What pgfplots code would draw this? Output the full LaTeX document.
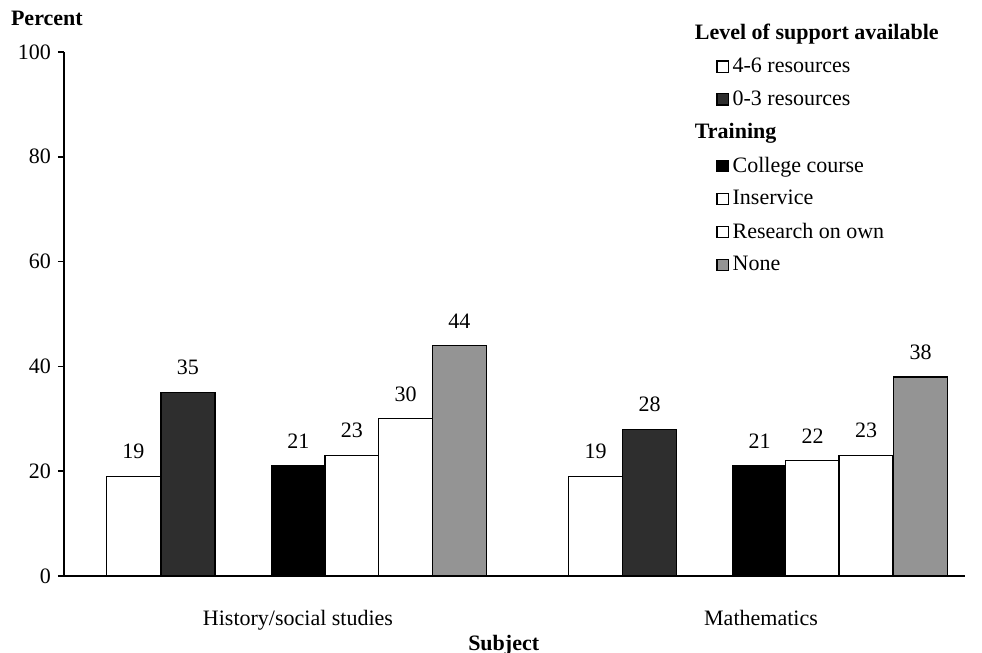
\documentclass[border=0pt]{standalone}
\usepackage{fontspec}
\setmainfont{Liberation Serif}
\usepackage{pgfplots}
\pgfplotsset{compat=1.18}
\begin{document}
\begin{tikzpicture}[font=\fontsize{11}{13}\selectfont]
\begin{axis}[
  x=0.5pt, y=2.62pt,
  xmin=64, xmax=965, ymin=0, ymax=100,
  axis x line=bottom, axis y line=left,
  axis line style={-, line width=1.2pt},
  ytick={0,20,40,60,80,100},
  tick align=outside,
  major tick length=3pt,
  ytick style={line width=0.8pt, black},
  xtick={298,761},
  xticklabels={History/social studies, Mathematics},
  xtick style={draw=none},
  xticklabel style={yshift=-10.5pt},
  /pgf/number format/assume math mode=true,
  xlabel={Subject},
  xlabel style={at={(rel axis cs:0.488,-0.132)}, anchor=center, font=\fontsize{11}{13}\selectfont\bfseries},
  ylabel={Percent},
  ylabel style={rotate=-90, at={(rel axis cs:-0.019,1.065)}, anchor=center, font=\fontsize{11}{13}\selectfont\bfseries},
  ybar, bar width=54, bar shift=0pt,
  clip=false,
  nodes near coords,
  nodes near coords style={yshift=5pt, /pgf/number format/assume math mode=true},
  legend image code/.code={\draw[#1, line width=0.6pt] (0pt,-2.8pt) rectangle (5.6pt,2.8pt); \path (7.5pt,0pt);},
  legend style={at={(0.7236,1.054)}, anchor=north west, draw=none, fill=none,
    inner sep=0pt, row sep=7.6pt, legend cell align=left,
    nodes={inner sep=0pt}},
]
\addlegendimage{empty legend}
\addlegendentry{\hspace*{-18.9pt}\textbf{Level of support available}}
\addplot[draw=black, line width=0.7pt, fill=white, bar shift=0pt] coordinates {(133.5,19) (595.5,19)};
\addlegendentry{4-6 resources}
\addplot[draw=black, line width=0.7pt, fill=black!82, bar shift=0pt] coordinates {(188,35) (649.5,28)};
\addlegendentry{0-3 resources}
\addlegendimage{empty legend}
\addlegendentry{\hspace*{-18.9pt}\textbf{Training}}
\addplot[draw=black, line width=0.7pt, fill=black, bar shift=0pt] coordinates {(298.5,21) (759.5,21)};
\addlegendentry{College course}
\addplot[draw=black, line width=0.7pt, fill=white, bar shift=0pt] coordinates {(352,23) (812.5,22)};
\addlegendentry{Inservice}
\addplot[draw=black, line width=0.7pt, fill=white, bar shift=0pt] coordinates {(405.5,30) (866,23)};
\addlegendentry{Research on own}
\addplot[draw=black, line width=0.7pt, fill=black!42, bar shift=0pt] coordinates {(459.5,44) (920.5,38)};
\addlegendentry{None}
\coordinate (bbSW) at (axis cs:0,-14.69);
\coordinate (bbNE) at (axis cs:982,109.92);
\end{axis}
\pgfresetboundingbox
\path (bbSW) rectangle (bbNE);
\end{tikzpicture}
\end{document}
